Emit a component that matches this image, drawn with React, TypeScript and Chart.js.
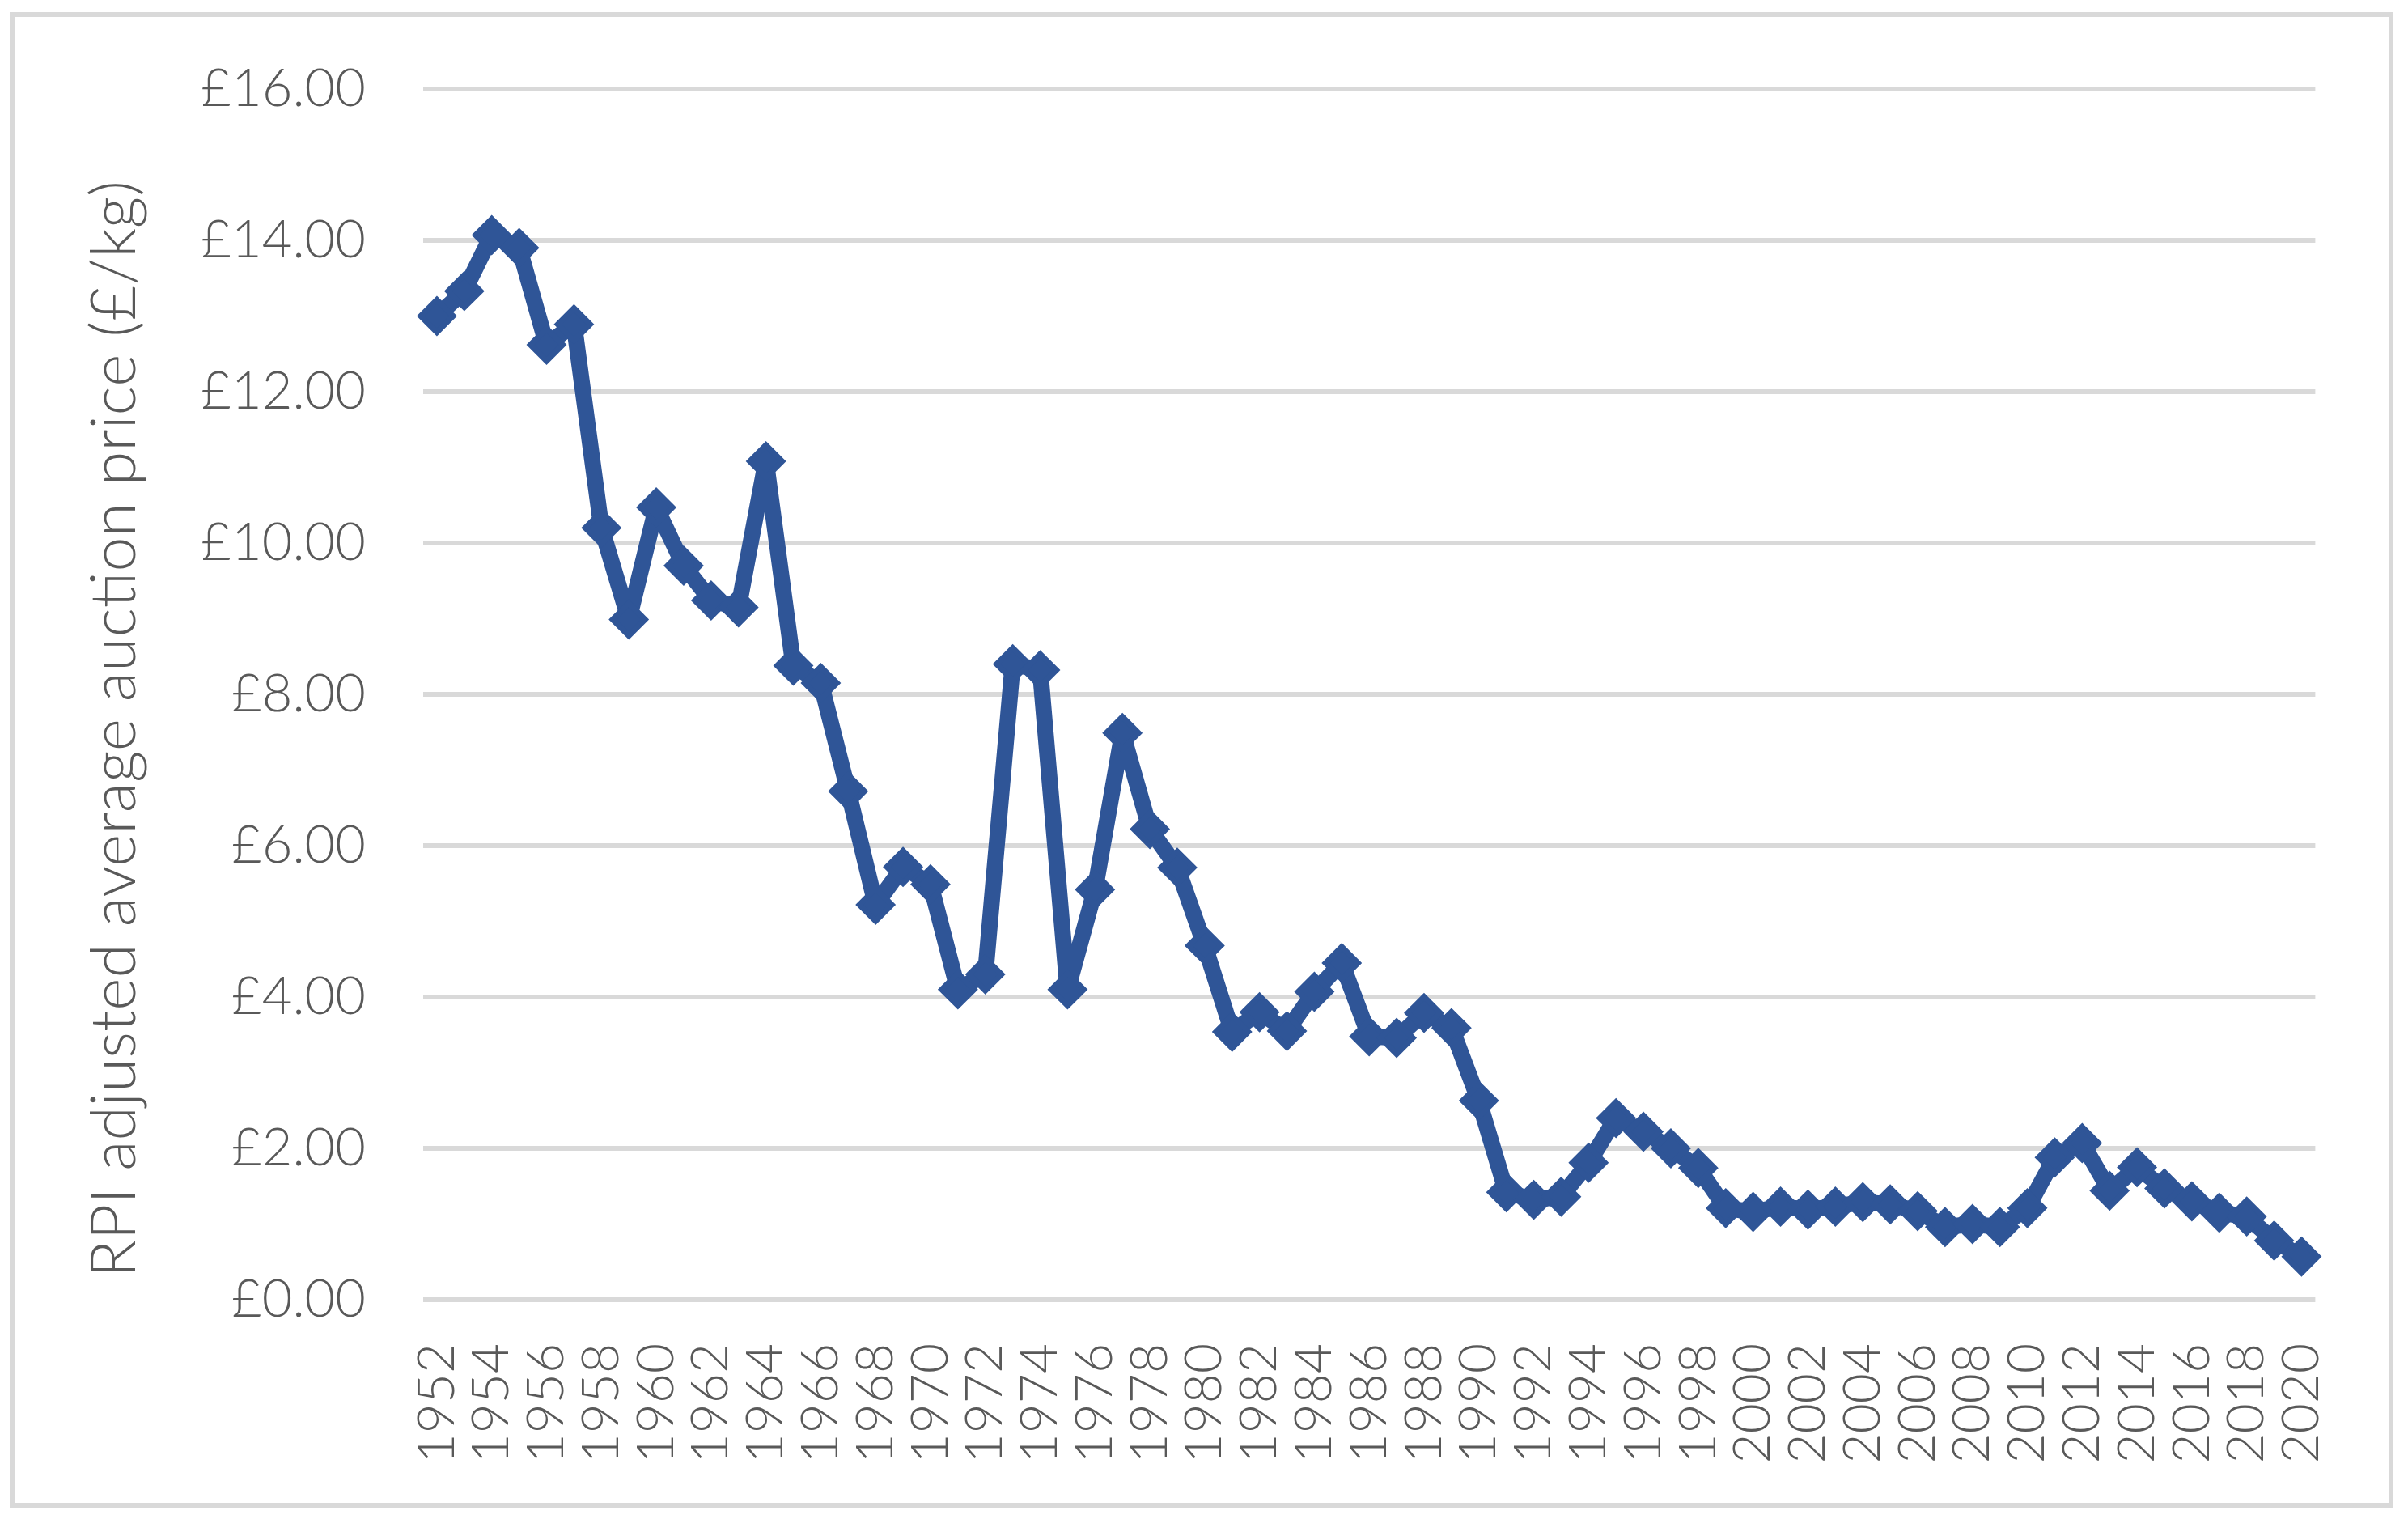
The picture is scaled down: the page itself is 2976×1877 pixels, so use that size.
import React, { useEffect, useRef } from "react";
import { Chart, registerables } from "chart.js";

Chart.register(...registerables);

const years: string[] = [
  "1952", "1953", "1954", "1955", "1956", "1957", "1958", "1959", "1960", "1961",
  "1962", "1963", "1964", "1965", "1966", "1967", "1968", "1969", "1970", "1971",
  "1972", "1973", "1974", "1975", "1976", "1977", "1978", "1979", "1980", "1981",
  "1982", "1983", "1984", "1985", "1986", "1987", "1988", "1989", "1990", "1991",
  "1992", "1993", "1994", "1995", "1996", "1997", "1998", "1999", "2000", "2001",
  "2002", "2003", "2004", "2005", "2006", "2007", "2008", "2009", "2010", "2011",
  "2012", "2013", "2014", "2015", "2016", "2017", "2018", "2019", "2020",
];

const prices: number[] = [
  13.0, 13.33, 14.07, 13.9, 12.62, 12.89, 10.2, 8.99, 10.47, 9.7,
  9.24, 9.15, 11.08, 8.38, 8.15, 6.72, 5.22, 5.72, 5.49, 4.1,
  4.3, 8.4, 8.32, 4.1, 5.42, 7.49, 6.22, 5.71, 4.68, 3.54,
  3.8, 3.55, 4.07, 4.45, 3.48, 3.46, 3.79, 3.59, 2.63, 1.42,
  1.32, 1.36, 1.81, 2.4, 2.22, 2.0, 1.74, 1.21, 1.16, 1.23,
  1.19, 1.23, 1.29, 1.26, 1.17, 0.96, 1.0, 0.96, 1.21, 1.88,
  2.07, 1.44, 1.75, 1.47, 1.3, 1.15, 1.1, 0.78, 0.57,
];

const xTickLabels: string[] = [
  "1952", "1954", "1956", "1958", "1960", "1962", "1964", "1966", "1968", "1970",
  "1972", "1974", "1976", "1978", "1980", "1982", "1984", "1986", "1988", "1990",
  "1992", "1994", "1996", "1998", "2000", "2002", "2004", "2006", "2008", "2010",
  "2012", "2014", "2016", "2018", "2020",
];

const yTickValues: number[] = [0, 2, 4, 6, 8, 10, 12, 14, 16];

const yTitle = "RPI adjusted average auction price (£/kg)";

const W = 2976;
const H = 1877;
const AREA_LEFT = 523;
const AREA_RIGHT = 2871;
const AREA_TOP = 109;
const AREA_BOTTOM = 1606;
const TITLE_CX = 142;
const TITLE_CY = 901;

const LINE_COLOR = "#2F5597";
const GRID_COLOR = "#D9D9D9";
const TEXT_COLOR = "#595959";
const FONT = "Lato";

const yTitlePlugin = {
  id: "yTitlePlugin",
  afterDraw(chart: any) {
    const ctx = chart.ctx;
    ctx.save();
    ctx.translate(TITLE_CX, TITLE_CY);
    ctx.rotate(-Math.PI / 2);
    ctx.fillStyle = TEXT_COLOR;
    ctx.font = `300 77px ${FONT}`;
    ctx.textAlign = "center";
    ctx.textBaseline = "middle";
    ctx.fillText(yTitle, 0, 0);
    ctx.restore();
  },
};

export default function App() {
  const canvasRef = useRef<HTMLCanvasElement | null>(null);

  useEffect(() => {
    const canvas = canvasRef.current;
    if (!canvas) return;
    const chart = new Chart(canvas, {
      type: "line",
      data: {
        labels: years,
        datasets: [
          {
            data: prices,
            borderColor: LINE_COLOR,
            backgroundColor: LINE_COLOR,
            borderWidth: 20,
            borderJoinStyle: "round",
            borderCapStyle: "round",
            pointStyle: "rectRot",
            pointRadius: 20,
            pointBorderWidth: 7,
            pointBackgroundColor: LINE_COLOR,
            pointBorderColor: LINE_COLOR,
            tension: 0,
            fill: false,
          },
        ],
      },
      options: {
        animation: false,
        responsive: false,
        maintainAspectRatio: false,
        devicePixelRatio: 1,
        layout: {
          padding: { left: 0, top: AREA_TOP, right: W - AREA_RIGHT, bottom: 0 },
        },
        plugins: {
          legend: { display: false },
          tooltip: { enabled: false },
          title: { display: false },
        },
        scales: {
          x: {
            type: "category",
            offset: true,
            grid: { display: false, drawTicks: false },
            border: { display: false },
            ticks: {
              autoSkip: false,
              maxRotation: 90,
              minRotation: 90,
              padding: 54,
              color: TEXT_COLOR,
              font: { family: FONT, size: 64, weight: "300" },
              callback: (_v: any, idx: number) =>
                xTickLabels.includes(years[idx]) ? years[idx] : "",
            },
            afterFit: (scale: any) => {
              scale.height = H - AREA_BOTTOM;
            },
          },
          y: {
            min: 0,
            max: 16,
            grid: { color: GRID_COLOR, lineWidth: 6, drawTicks: false },
            border: { display: false },
            afterBuildTicks: (scale: any) => {
              scale.ticks = yTickValues.map((v) => ({ value: v }));
            },
            ticks: {
              padding: 71,
              color: TEXT_COLOR,
              font: { family: FONT, size: 65, weight: "300" },
              callback: (v: any) => "£" + Number(v).toFixed(2),
            },
            title: { display: false, text: yTitle },
            afterFit: (scale: any) => {
              scale.width = AREA_LEFT;
            },
          },
        },
      },
      plugins: [yTitlePlugin],
    });
    return () => chart.destroy();
  }, []);

  return (
    <div style={{ position: "absolute", left: 0, top: 0, width: W, height: H, background: "#fff" }}>
      <canvas
        ref={canvasRef}
        width={W}
        height={H}
        style={{ position: "absolute", left: 0, top: 0, width: W, height: H }}
      />
      <div
        style={{
          position: "absolute",
          left: 12,
          top: 15,
          width: 2946,
          height: 1848,
          border: "6px solid #D9D9D9",
          boxSizing: "border-box",
          pointerEvents: "none",
        }}
      />
    </div>
  );
}
